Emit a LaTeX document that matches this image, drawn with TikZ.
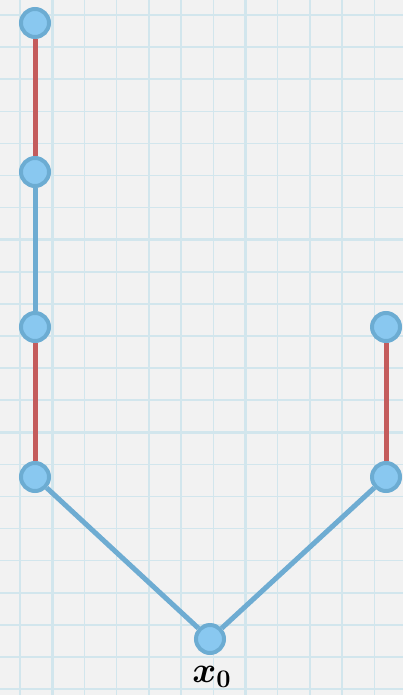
\documentclass[tikz,border=0pt]{standalone}
\usepackage{amsmath,amssymb,bm}
\usepackage{tikz}
\usetikzlibrary{positioning}

\definecolor{paper}{RGB}{242,242,242}
\definecolor{gridline}{RGB}{210,230,237}
\definecolor{nodefill}{RGB}{137,200,240}
\definecolor{nodedraw}{RGB}{108,172,210}
\definecolor{edgeblue}{RGB}{110,172,210}
\definecolor{edgered}{RGB}{196,92,92}

\begin{document}
\begin{tikzpicture}[
  x=0.02cm,y=-0.02cm,
  vert/.style={circle, draw=nodedraw, fill=nodefill, line width=0.08cm, minimum size=0.56cm, inner sep=0pt},
  redge/.style={draw=edgered, line width=0.1cm},
  bedge/.style={draw=edgeblue, line width=0.1cm}
]
% paper background
\fill[paper] (0,0) rectangle (403,695);
\useasboundingbox (0,0) rectangle (403,695);
\foreach \i in {0,...,12} {
  \pgfmathsetmacro{\gx}{20+32.2*\i}
  \pgfmathtruncatemacro{\thick}{mod(\i,6)==1 ? 1 : 0}
  \ifnum\thick=1
    \draw[gridline, line width=1.6pt] (\gx,0) -- (\gx,695);
  \else
    \draw[gridline, line width=0.8pt] (\gx,0) -- (\gx,695);
  \fi
}
\foreach \i in {0,...,21} {
  \pgfmathsetmacro{\gy}{15+32.1*\i}
  \pgfmathtruncatemacro{\thick}{mod(\i,6)==1 ? 1 : 0}
  \ifnum\thick=1
    \draw[gridline, line width=1.6pt] (0,\gy) -- (403,\gy);
  \else
    \draw[gridline, line width=0.8pt] (0,\gy) -- (403,\gy);
  \fi
}

% vertices
\node[vert] (l1) at (35,23) {};
\node[vert] (l2) at (35,172) {};
\node[vert] (l3) at (35,327) {};
\node[vert] (l4) at (35,477) {};
\node[vert] (r3) at (386,327) {};
\node[vert] (r4) at (386,477) {};
\node[vert] (root) at (210,639) {};
\node[font=\fontsize{21}{24}\selectfont, inner sep=0pt] (lab) at (212,677) {$\bm{x}_{\bm{0}}$};

% edges
\draw[redge] (l1) -- (l2);
\draw[bedge] (l2) -- (l3);
\draw[redge] (l3) -- (l4);
\draw[bedge] (l4) -- (root);
\draw[bedge] (root) -- (r4);
\draw[redge] (r4) -- (r3);
\end{tikzpicture}
\end{document}
